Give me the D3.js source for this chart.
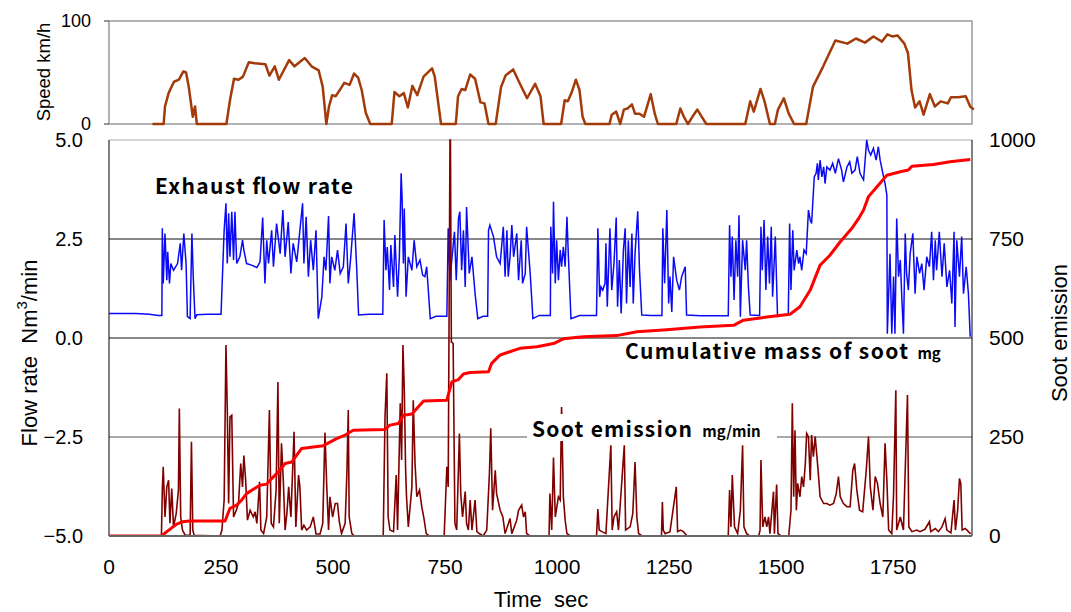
<!DOCTYPE html>
<html>
<head>
<meta charset="utf-8">
<script src="https://cdn.jsdelivr.net/npm/d3@7"></script>
<style>
  body { margin: 0; background: #fff; }
  text { font-family: "Liberation Sans", Arial, sans-serif; fill: #000; white-space: pre; }
  .lbl { font-family: "Noto Sans CJK JP", "DejaVu Sans", sans-serif; font-weight: bold; }
</style>
</head>
<body>
<div id="chart"></div>
<script>
// tick labels
var timeTicks = [0, 250, 500, 750, 1000, 1250, 1500, 1750];
var flowTicks = [5, 2.5, 0, -2.5, -5];
var sootTicks = [0, 250, 500, 750, 1000];
var speedTicks = [0, 100];

// vehicle speed, [sec, km/h]
var speed = [[97,0],[122,0],[125,17],[133,30],[145,41],[156,43],[166,51],[172,50],[178,36],[187,7],[192,17],[196,0],
  [262,0],[270,23],[279,44],[289,43],[299,46],[312,60],[325,59],[349,58],[358,47],[370,56],[379,43],[402,62],[414,56],
  [425,60],[437,64],[452,56],[468,52],[477,36],[485,0],[491,17],[498,28],[506,27],[518,35],[525,40],[537,38],[547,49],
  [556,45],[564,33],[573,11],[583,0],[631,0],[637,31],[648,27],[658,30],[667,16],[677,37],[688,28],[702,46],[721,54],
  [727,46],[741,0],[774,0],[779,27],[787,34],[795,33],[806,48],[817,44],[829,21],[838,20],[847,0],[863,0],[875,36],
  [885,47],[902,53],[916,40],[933,25],[951,39],[963,27],[970,0],[1009,0],[1017,23],[1024,22],[1032,30],[1042,43],
  [1050,33],[1057,7],[1063,0],[1117,0],[1122,9],[1132,12],[1141,0],[1149,14],[1157,15],[1167,19],[1174,10],[1184,10],
  [1194,7],[1209,29],[1218,10],[1225,0],[1266,0],[1275,15],[1283,7],[1292,0],[1302,7],[1313,14],[1323,7],[1333,0],
  [1420,0],[1431,22],[1439,12],[1454,34],[1463,22],[1475,0],[1486,0],[1493,14],[1506,25],[1517,10],[1529,0],[1556,0],
  [1571,36],[1594,56],[1621,81],[1648,78],[1667,83],[1687,79],[1706,85],[1725,80],[1737,87],[1748,85],[1760,86],
  [1775,78],[1783,69],[1791,33],[1799,16],[1809,22],[1818,9],[1832,29],[1843,17],[1856,22],[1872,20],[1879,26],
  [1895,26],[1912,27],[1922,17],[1930,14]];

// exhaust flow rate, [sec, Nm3/min]
var flow = [[0,0.62],[60,0.62],[90,0.6],[110,0.57],[118,0.57],[119,2.77],[121,1.38],[125,2.64],[129,1.46],[131,2.18],
  [135,1.38],[138,1.88],[144,1.71],[153,1.88],[159,2.39],[162,1.71],[167,2.64],[172,1.88],[175,0.54],[181,0.49],
  [185,2.64],[188,1.55],[192,0.49],[196,0.59],[220,0.6],[250,0.6],[257,2.72],[261,3.4],[264,1.88],[267,3.15],
  [270,2.05],[274,3.19],[278,1.97],[281,3.19],[285,1.88],[292,2.05],[298,2.47],[301,2.22],[307,1.88],[318,1.84],
  [330,1.78],[337,1.92],[343,3.04],[348,1.38],[352,2.47],[356,1.88],[363,2.72],[367,1.8],[374,2.89],[382,2.13],
  [388,3.23],[393,2.05],[400,2.93],[406,1.63],[411,2.39],[419,1.92],[432,3.4],[435,1.88],[440,3.06],[445,1.55],
  [450,2.47],[456,1.71],[462,2.72],[467,0.49],[475,1.04],[480,2.05],[484,1.71],[490,3.08],[493,1.38],[497,2.05],
  [504,1.71],[510,2.22],[516,1.63],[523,1.8],[529,2.89],[534,1.38],[539,1.97],[547,3.15],[553,1.71],[557,0.58],
  [580,0.6],[611,0.6],[614,2.98],[618,1.71],[621,2.3],[626,1.21],[629,2.35],[635,1.29],[638,2.6],[644,1.04],
  [648,2.05],[652,4.16],[654,3.57],[657,1.88],[659,3.27],[663,1.04],[668,2.05],[676,1.71],[681,2.47],[687,1.8],
  [694,1.97],[700,1.59],[705,1.55],[709,1.8],[717,0.49],[730,0.55],[754,0.55],[757,2.77],[761,1.46],[765,1.97],
  [771,2.68],[775,1.46],[780,3.02],[783,3.19],[787,1.71],[791,2.72],[795,1.29],[798,3.31],[804,1.63],[810,2.05],
  [817,1.12],[823,0.49],[835,0.55],[845,0.55],[847,2.72],[850,2.85],[858,2.56],[865,2.05],[873,1.88],[880,2.81],
  [884,1.55],[888,2.72],[891,1.55],[895,2.05],[899,2.85],[903,2.05],[910,2.64],[914,1.46],[920,2.47],[923,1.38],
  [929,1.63],[932,2.81],[940,1.63],[946,0.49],[960,0.57],[985,0.57],[986,2.81],[990,1.63],[992,3.44],[996,1.38],
  [999,2.47],[1003,1.46],[1007,2.22],[1010,1.8],[1014,2.3],[1018,1.8],[1022,3.06],[1025,2.13],[1031,0.49],
  [1050,0.57],[1088,0.57],[1091,2.77],[1095,1.04],[1098,1.29],[1102,1.21],[1107,1.38],[1109,2.39],[1112,0.79],
  [1118,2.77],[1122,1.21],[1127,1.88],[1132,3.04],[1135,0.79],[1139,1.97],[1143,0.62],[1148,2.22],[1152,2.77],
  [1155,0.87],[1159,2.47],[1163,1.29],[1167,2.64],[1170,0.87],[1174,2.13],[1180,3.2],[1184,1.71],[1189,0.58],
  [1210,0.57],[1234,0.57],[1236,2.77],[1240,1.38],[1245,3.23],[1249,0.87],[1252,1.55],[1256,0.66],[1260,2.05],
  [1267,1.46],[1273,1.21],[1278,1.55],[1286,1.8],[1289,0.58],[1320,0.56],[1382,0.56],[1385,2.85],[1388,1.55],
  [1391,2.56],[1395,0.96],[1399,2.47],[1403,1.55],[1406,3.1],[1409,0.54],[1414,2.47],[1420,1.71],[1423,2.47],
  [1427,1.29],[1431,0.58],[1452,0.57],[1455,2.81],[1458,1.71],[1462,2.98],[1466,1.21],[1470,2.56],[1474,1.38],
  [1478,2.81],[1481,1.04],[1487,2.56],[1492,0.54],[1500,0.58],[1516,0.6],[1519,2.89],[1522,1.21],[1526,2.72],
  [1529,1.71],[1535,2.22],[1539,1.88],[1542,2.05],[1546,1.71],[1551,2.22],[1556,2.13],[1561,3.23],[1565,2.98],
  [1568,2.89],[1574,4.07],[1578,4.16],[1581,4.41],[1583,3.99],[1587,4.49],[1591,4.07],[1595,4.32],[1598,3.9],
  [1602,4.32],[1609,4.24],[1615,4.41],[1621,4.16],[1628,4.53],[1635,4.24],[1639,3.94],[1647,4.32],[1653,4.45],
  [1658,4.16],[1665,4.24],[1670,4.58],[1676,4.16],[1684,3.99],[1691,5.0],[1695,4.74],[1700,4.62],[1706,4.79],
  [1712,4.49],[1717,4.83],[1721,4.49],[1727,4.16],[1732,3.9],[1736,3.61],[1737,0.11],[1743,2.13],[1747,0.11],
  [1751,1.55],[1754,0.11],[1758,3.02],[1762,1.55],[1766,1.97],[1769,1.12],[1773,0.11],[1777,2.64],[1780,1.63],
  [1784,1.21],[1788,2.13],[1794,2.64],[1799,1.12],[1803,2.05],[1809,1.63],[1814,1.88],[1819,1.21],[1825,2.05],
  [1831,1.8],[1836,2.68],[1840,1.46],[1844,2.47],[1847,1.71],[1853,2.68],[1859,1.55],[1864,2.39],[1870,1.29],
  [1876,1.71],[1881,0.87],[1886,2.68],[1888,0.28],[1892,2.47],[1898,1.55],[1903,2.56],[1907,1.12],[1913,1.8],
  [1918,1.12],[1922,0.03]];

// soot emission, [sec, mg/min]
var soot = [[0,0],[117,0],[119,116],[121,175],[125,48],[129,124],[133,141],[136,32],[140,120],[144,23],[150,57],
  [155,116],[157,322],[160,48],[164,15],[170,2],[181,2],[184,238],[187,15],[190,2],[248,0],[252,15],[257,91],
  [261,482],[264,318],[267,82],[270,301],[274,305],[278,48],[284,65],[289,82],[294,183],[298,124],[301,203],
  [305,141],[309,40],[315,65],[322,48],[326,61],[330,32],[336,137],[339,15],[345,6],[352,48],[358,318],[362,32],
  [367,23],[373,116],[377,389],[380,32],[385,234],[389,141],[393,15],[397,57],[401,124],[406,48],[413,263],[417,23],
  [423,154],[426,124],[430,15],[435,27],[441,15],[449,23],[456,48],[462,5],[471,5],[477,32],[482,261],[486,124],
  [490,15],[493,99],[499,48],[505,82],[510,82],[514,36],[519,6],[527,32],[531,162],[534,318],[536,48],[542,6],
  [548,0],[612,0],[616,301],[620,411],[623,48],[627,15],[635,11],[641,154],[644,15],[650,335],[653,192],[656,482],
  [659,368],[662,166],[664,99],[668,23],[676,124],[679,343],[683,183],[687,99],[693,116],[698,74],[703,44],[708,6],
  [715,0],[748,0],[754,175],[757,124],[761,1000],[762,1000],[764,490],[765,490],[768,486],[772,32],[776,15],
  [782,259],[785,107],[789,48],[795,112],[798,32],[802,15],[806,91],[810,15],[817,91],[821,11],[828,5],[835,0],
  [843,15],[849,158],[852,272],[856,65],[862,166],[865,107],[873,65],[879,48],[884,6],[895,44],[899,6],[910,40],
  [914,65],[921,78],[925,48],[929,61],[932,6],[940,0],[982,0],[984,107],[988,15],[992,198],[996,48],[1003,99],
  [1007,91],[1010,326],[1014,99],[1018,40],[1022,6],[1030,0],[1088,0],[1091,68],[1094,15],[1100,11],[1109,6],
  [1120,229],[1123,15],[1127,48],[1133,61],[1137,15],[1150,229],[1153,15],[1163,23],[1169,57],[1174,187],[1178,48],
  [1182,6],[1190,0],[1233,0],[1235,86],[1237,15],[1241,6],[1252,11],[1266,124],[1269,11],[1275,15],[1282,11],
  [1290,0],[1382,0],[1385,116],[1388,23],[1391,154],[1396,23],[1403,6],[1409,65],[1414,229],[1417,23],[1423,6],
  [1430,0],[1450,0],[1453,15],[1455,192],[1459,23],[1464,48],[1468,23],[1472,48],[1475,6],[1483,112],[1485,6],
  [1490,130],[1493,6],[1500,0],[1517,0],[1522,65],[1525,335],[1528,99],[1531,267],[1534,65],[1537,133],[1542,99],
  [1546,150],[1550,124],[1554,183],[1557,259],[1561,251],[1565,141],[1568,255],[1572,200],[1576,251],[1580,200],
  [1583,158],[1587,99],[1595,82],[1602,82],[1609,78],[1617,82],[1623,107],[1628,150],[1632,99],[1639,82],[1647,74],
  [1654,74],[1660,166],[1664,183],[1669,116],[1675,65],[1682,61],[1690,166],[1695,251],[1699,124],[1705,65],
  [1710,150],[1715,133],[1721,82],[1727,48],[1732,234],[1736,141],[1740,15],[1747,6],[1751,107],[1756,368],
  [1758,15],[1766,48],[1773,15],[1782,356],[1785,23],[1792,11],[1803,15],[1810,11],[1821,17],[1831,36],[1834,11],
  [1844,19],[1851,11],[1859,23],[1866,44],[1870,15],[1879,8],[1886,91],[1889,15],[1894,65],[1898,145],[1901,133],
  [1904,15],[1911,19],[1918,11],[1923,5]];

// cumulative soot mass, [sec, mg]
var cumMass = [[0,0],[117,0],[129,11],[151,30],[164,36],[180,38],[259,38],[270,70],[285,78],[296,91],[307,107],
  [322,118],[337,128],[352,131],[363,145],[378,162],[393,183],[408,187],[419,204],[430,221],[456,225],[478,228],
  [490,235],[508,246],[527,255],[545,267],[616,269],[627,280],[646,284],[657,305],[676,308],[687,322],[702,341],
  [754,343],[765,389],[780,395],[791,409],[806,413],[847,415],[854,436],[869,453],[873,457],[917,474],[955,478],
  [992,486],[1014,498],[1059,503],[1133,506],[1178,516],[1245,521],[1319,528],[1394,532],[1416,545],[1468,553],
  [1520,560],[1542,579],[1565,621],[1587,684],[1609,709],[1632,743],[1658,777],[1673,802],[1684,823],[1695,857],
  [1714,882],[1736,911],[1766,920],[1784,924],[1792,934],[1840,938],[1877,945],[1922,951]];

var W = 1071, H = 612;
var L = 109, R = 972, T = 140, B = 536;
var sT = 21, sB = 124;

var svg = d3.select('#chart').append('svg').attr('width', W).attr('height', H);

var x = d3.scaleLinear().domain([0, 1926]).range([L, R]);
var yFlow = d3.scaleLinear().domain([-5, 5]).range([B, T]);
var ySoot = d3.scaleLinear().domain([0, 1000]).range([B, T]);
var ySpeed = d3.scaleLinear().domain([0, 100]).range([sB, sT]);

svg.append('clipPath').attr('id', 'clip').append('rect')
   .attr('x', L).attr('y', T - 2).attr('width', R - L).attr('height', B - T + 2);

// ---- speed panel ----
svg.append('rect').attr('x', L).attr('y', sT).attr('width', R - L).attr('height', sB - sT)
   .style('fill', 'none').style('stroke', '#9a9a9a').style('stroke-width', 1.5);

svg.selectAll('.sTick').data(speedTicks).enter().append('line')
   .attr('x1', L - 5).attr('x2', L).attr('y1', function(d){ return ySpeed(d); }).attr('y2', function(d){ return ySpeed(d); })
   .style('stroke', '#333');
svg.selectAll('.sLab').data(speedTicks).enter().append('text')
   .attr('x', 91).attr('y', function(d){ return ySpeed(d) + 6; })
   .attr('text-anchor', 'end').style('font-size', '18px')
   .text(function(d){ return d; });

svg.append('text').attr('transform', 'translate(50,72) rotate(-90)')
   .attr('text-anchor', 'middle').style('font-size', '18.5px').text('Speed km/h');

svg.append('path').datum(speed)
   .attr('d', d3.line().x(function(d){ return x(d[0]); }).y(function(d){ return ySpeed(d[1]); }))
   .style('fill', 'none').style('stroke', '#a33a0a').style('stroke-width', 2.5).style('stroke-linejoin', 'round');

// ---- main panel ----
// grid lines at 2.5 / 0 / -2.5
svg.selectAll('.grid').data([2.5, 0, -2.5]).enter().append('line')
   .attr('x1', L).attr('x2', R).attr('y1', function(d){ return yFlow(d); }).attr('y2', function(d){ return yFlow(d); })
   .style('stroke', function(d){ return d < 0 ? '#555' : '#111'; }).style('stroke-width', 1);

svg.append('line').attr('x1', L).attr('x2', R).attr('y1', T).attr('y2', T).style('stroke', '#aaa');
svg.append('line').attr('x1', L).attr('x2', L).attr('y1', T).attr('y2', B).style('stroke', '#000');
svg.append('line').attr('x1', R).attr('x2', R).attr('y1', T).attr('y2', B).style('stroke', '#000');

var plot = svg.append('g').attr('clip-path', 'url(#clip)');

plot.append('path').datum(flow)
   .attr('d', d3.line().x(function(d){ return x(d[0]); }).y(function(d){ return yFlow(d[1]); }))
   .style('fill', 'none').style('stroke', '#0a0af5').style('stroke-width', 1.5);

plot.append('path').datum(soot)
   .attr('d', d3.line().x(function(d){ return x(d[0]); }).y(function(d){ return ySoot(d[1]); }))
   .style('fill', 'none').style('stroke', '#800000').style('stroke-width', 1.6);

plot.append('path').datum(cumMass)
   .attr('d', d3.line().x(function(d){ return x(d[0]); }).y(function(d){ return ySoot(d[1]); }))
   .style('fill', 'none').style('stroke', '#ff0000').style('stroke-width', 3).style('stroke-linejoin', 'round');

svg.append('line').attr('x1', L).attr('x2', R).attr('y1', B).attr('y2', B).style('stroke', '#666').style('stroke-width', 2);

// in-plot labels
svg.append('rect').attr('x', 618).attr('y', 339).attr('width', 332).attr('height', 25).style('fill', '#fff');
svg.append('rect').attr('x', 527).attr('y', 414).attr('width', 250).attr('height', 27).style('fill', '#fff');

svg.append('text').attr('class', 'lbl').attr('x', 155).attr('y', 194)
   .attr('textLength', 198).attr('lengthAdjust', 'spacing')
   .style('font-size', '21px').text('Exhaust flow rate');

var t1 = svg.append('text').attr('class', 'lbl').attr('x', 625).attr('y', 359).style('font-size', '21px');
t1.append('tspan').attr('textLength', 283).attr('lengthAdjust', 'spacing').text('Cumulative mass of soot');
t1.append('tspan').attr('dx', 8).style('font-size', '15px').text('mg');

var t2 = svg.append('text').attr('class', 'lbl').attr('x', 532).attr('y', 437).style('font-size', '21px');
t2.append('tspan').attr('textLength', 160).attr('lengthAdjust', 'spacing').text('Soot emission');
t2.append('tspan').attr('dx', 9).style('font-size', '15px').text('mg/min');

// axes labels
svg.selectAll('.fLab').data(flowTicks).enter().append('text')
   .attr('x', 83).attr('y', function(d){ return yFlow(d) + 7; })
   .attr('text-anchor', 'end').style('font-size', '20px')
   .text(function(d){ return d3.format('.1f')(d).replace('-', '\u2212'); });

svg.selectAll('.rLab').data(sootTicks).enter().append('text')
   .attr('x', 989).attr('y', function(d){ return ySoot(d) + 7; })
   .style('font-size', '21px').text(function(d){ return d; });

svg.selectAll('.xLab').data(timeTicks).enter().append('text')
   .attr('x', function(d){ return x(d); }).attr('y', 574)
   .attr('text-anchor', 'middle').style('font-size', '21px').text(function(d){ return d; });

var yt = svg.append('text').attr('transform', 'translate(37,353) rotate(-90)')
   .attr('text-anchor', 'middle').style('font-size', '22px');
yt.append('tspan').text('Flow rate  Nm');
yt.append('tspan').attr('dy', -10).style('font-size', '15px').text('3');
yt.append('tspan').attr('dy', 10).text('/min');

svg.append('text').attr('transform', 'translate(1067,333) rotate(-90)')
   .attr('text-anchor', 'middle').style('font-size', '22px').text('Soot emission');

svg.append('text').attr('x', 541).attr('y', 607).attr('text-anchor', 'middle')
   .style('font-size', '22px').text('Time  sec');
</script>
</body>
</html>
